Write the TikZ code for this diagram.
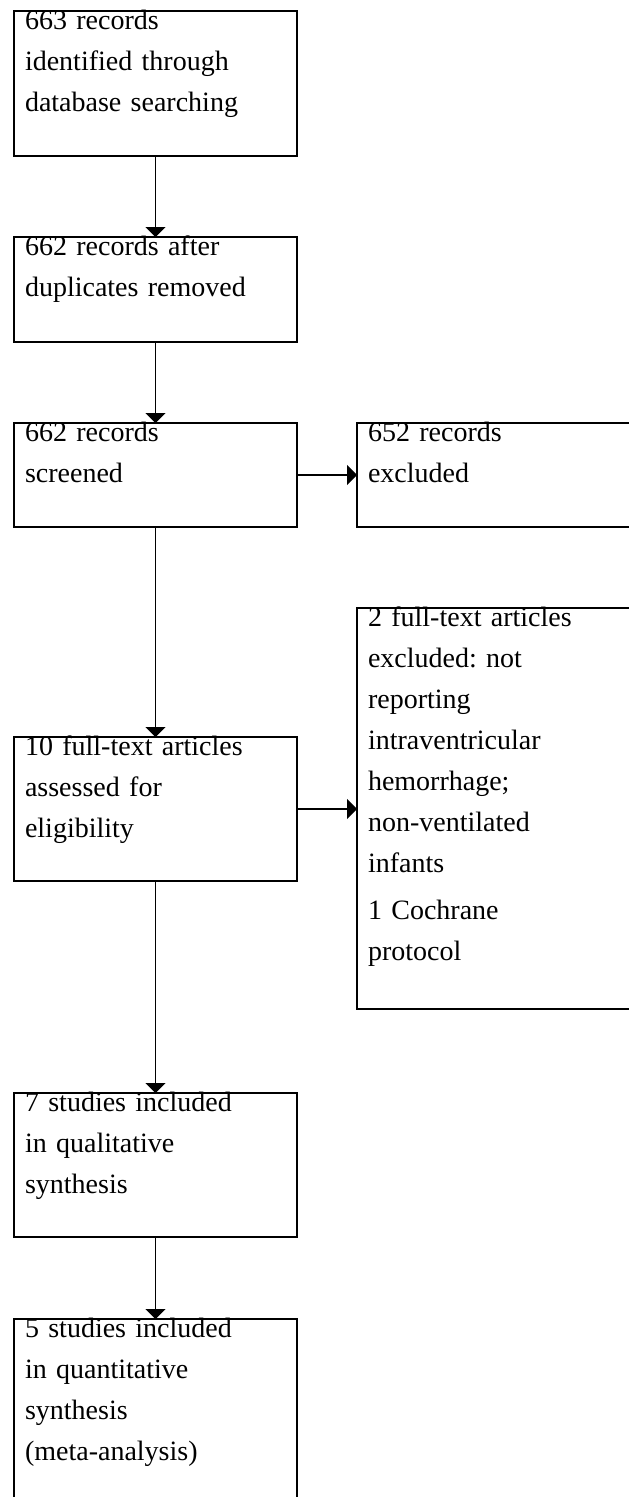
\documentclass[tikz,border=0pt]{standalone}
\usepackage{fontspec}
\setmainfont{Liberation Serif}
\usetikzlibrary{arrows.meta}
\frenchspacing
\begin{document}
\begin{tikzpicture}[x=1pt,y=-1pt,
  box/.style={draw,line width=1.5pt,anchor=north west,align=left,outer sep=0pt,
    inner xsep=11pt,inner ysep=0pt,text height=18pt,
    font=\fontsize{28}{41}\selectfont},
  flow/.style={line width=1.6pt,-{Triangle[width=20pt,length=10pt]}}]
\useasboundingbox (0,0) rectangle (629,1497);

% Draw boxes (main column)
\node[box,text width=261pt,text depth=127pt] (ident) at (14,11) {663 records\\identified through\\database searching};
\node[box,text width=261pt,text depth=87pt] (dedup) at (14,237) {662 records after\\duplicates removed};
\node[box,text width=261pt,text depth=86pt] (screen) at (14,423) {662 records\\screened};
\node[box,text width=261pt,text depth=126pt] (elig) at (14,737) {10 full-text articles\\assessed for\\eligibility};
\node[box,text width=261pt,text depth=126pt] (qual) at (14,1093) {7 studies included\\in qualitative\\synthesis};
\node[box,text width=261pt,text depth=168pt] (quant) at (14,1319) {5 studies included\\in quantitative\\synthesis\\(meta-analysis)};

% Draw boxes (exclusions)
\node[box,text width=266pt,text depth=86pt] (excl) at (357,423) {652 records\\excluded};
\node[box,text width=266pt,text depth=383pt] (ftexcl) at (357,608) {2 full-text articles\\excluded: not\\reporting\\intraventricular\\hemorrhage;\\non-ventilated\\infants\\[6pt]1 Cochrane\\protocol};

% Draw arrows
\draw[flow] (ident.south) -- (dedup.north);
\draw[flow] (dedup.south) -- (screen.north);
\draw[flow] (screen.south) -- (elig.north);
\draw[flow] (elig.south) -- (qual.north);
\draw[flow] (qual.south) -- (quant.north);
\draw[flow] (screen.east) -- (excl.west);
\draw[flow] (elig.east) -- (elig.east -| ftexcl.west);
\end{tikzpicture}
\end{document}
